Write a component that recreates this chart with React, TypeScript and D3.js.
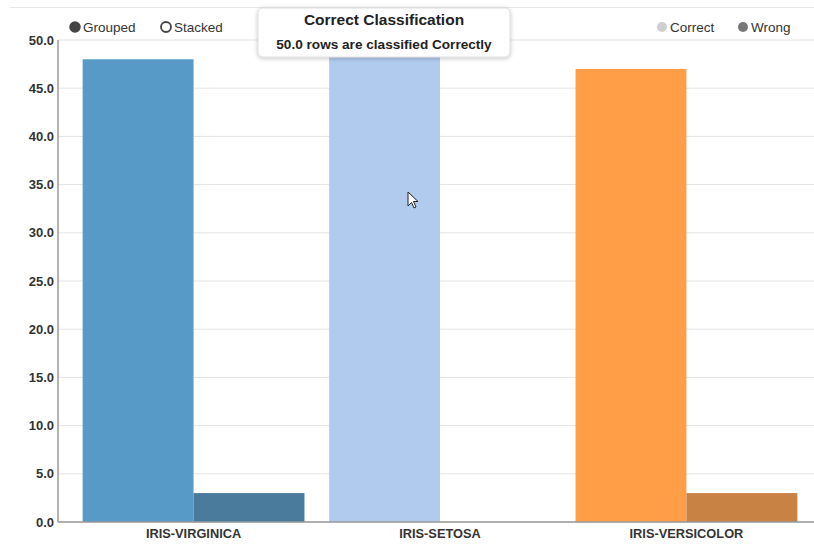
import React from 'react';
import * as d3 from 'd3';

const categories = ['IRIS-VIRGINICA', 'IRIS-SETOSA', 'IRIS-VERSICOLOR'];
const seriesNames = ['Correct', 'Wrong'];
const correctValues = [48, 50, 47];
const wrongValues = [3, 0, 3];
const yTicks = [0, 5, 10, 15, 20, 25, 30, 35, 40, 45, 50];
const correctColors = ['#5799c7', '#b1cbee', '#ff9e47'];
const wrongColors = ['#4a7a9c', '#8aa0c0', '#c88344'];

const W = 814;
const H = 544;
const margin = { top: 40, right: -8, bottom: 22, left: 58 };

const App = () => {
    const innerBottom = H - margin.bottom;

    const x = d3.scaleBand()
        .domain(categories)
        .range([margin.left, W - margin.right])
        .paddingInner(0.1)
        .paddingOuter(0.1);

    const xs = d3.scaleBand()
        .domain(seriesNames)
        .range([0, x.bandwidth()]);

    const y = d3.scaleLinear()
        .domain([0, 50])
        .range([innerBottom, margin.top]);

    const font = '"Liberation Sans", Arial, sans-serif';

    return (
        <svg width={W} height={H} style={{ position: 'absolute', left: 0, top: 0, fontFamily: font }}>
            <rect width={W} height={H} fill='#fff' />
            {/* top frame line */}
            <line x1={10} x2={W} y1={7.5} y2={7.5} stroke='#e6e6e6' />

            {/* grid */}
            {yTicks.map(t => (
                <line key={'g' + t} x1={margin.left} x2={W} y1={y(t)} y2={y(t)} stroke='#e4e4e4' />
            ))}

            {/* bars */}
            {categories.map((c, i) => (
                <g key={c}>
                    <rect x={x(c)! + xs('Correct')!} y={y(correctValues[i])}
                        width={xs.bandwidth()} height={innerBottom - y(correctValues[i])}
                        fill={correctColors[i]} />
                    <rect x={x(c)! + xs('Wrong')!} y={y(wrongValues[i])}
                        width={xs.bandwidth()} height={innerBottom - y(wrongValues[i])}
                        fill={wrongColors[i]} />
                </g>
            ))}

            {/* axes */}
            <line x1={margin.left} x2={margin.left} y1={margin.top} y2={innerBottom} stroke='#999' strokeWidth={1.5} />
            <line x1={margin.left} x2={W} y1={innerBottom} y2={innerBottom} stroke='#999' strokeWidth={1.5} />
            {yTicks.map(t => (
                <text key={'t' + t} x={margin.left - 4} y={y(t)} dy='0.35em' textAnchor='end'
                    fontSize={13} fontWeight='bold' fill='#333'>{d3.format('.1f')(t)}</text>
            ))}
            {categories.map(c => (
                <text key={'x' + c} x={x(c)! + x.bandwidth() / 2} y={innerBottom + 16} textAnchor='middle'
                    fontSize={12.8} fontWeight='bold' fill='#333'>{c}</text>
            ))}

            {/* controls legend */}
            <circle cx={75} cy={27} r={5} fill='#444' stroke='#444' strokeWidth={1.5} />
            <text x={83} y={27} dy='0.35em' fontSize={13.5} fill='#333'>Grouped</text>
            <circle cx={166} cy={27} r={5} fill='#fff' stroke='#444' strokeWidth={1.8} />
            <text x={174} y={27} dy='0.35em' fontSize={13.5} fill='#333'>Stacked</text>

            {/* series legend */}
            <circle cx={662} cy={27} r={5} fill='#cfcfcf' />
            <text x={670} y={27} dy='0.35em' fontSize={13.5} fill='#333'>{seriesNames[0]}</text>
            <circle cx={743} cy={27} r={5} fill='#777' />
            <text x={751} y={27} dy='0.35em' fontSize={13.5} fill='#333'>{seriesNames[1]}</text>

            {/* tooltip */}
            <defs>
                <filter id='shadow' x='-10%' y='-30%' width='120%' height='160%'>
                    <feDropShadow dx={0} dy={1} stdDeviation={2} floodColor='#000' floodOpacity={0.25} />
                </filter>
            </defs>
            <rect x={258} y={8} width={252} height={49} rx={5} fill='#fff' stroke='#ddd' filter='url(#shadow)' />
            <text x={384} y={20} dy='0.35em' textAnchor='middle' fontSize={15.5} fontWeight='bold' fill='#222'>Correct Classification</text>
            <text x={384} y={44} dy='0.35em' textAnchor='middle' fontSize={13.6} fontWeight='bold' fill='#222'>
                {d3.format('.1f')(correctValues[1])} rows are classified Correctly
            </text>

            {/* mouse pointer */}
            <path d='M408,192 L408,206 L411.5,202.5 L414,208 L416,207 L413.5,201.5 L418,201.5 Z'
                fill='#fff' stroke='#222' strokeWidth={1} />
        </svg>
    );
};

export default App;
